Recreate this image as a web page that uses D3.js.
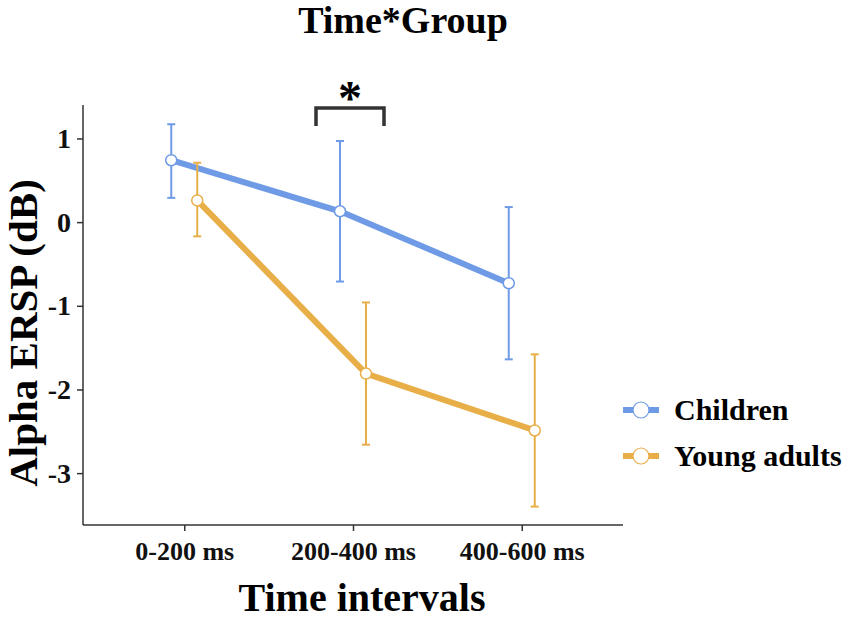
<!DOCTYPE html>
<html>
<head>
<meta charset="utf-8">
<script src="https://cdn.jsdelivr.net/npm/d3@7"></script>
<style>
  html, body { margin: 0; padding: 0; background: #fff; }
  svg { display: block; font-family: "Liberation Serif", "Times New Roman", serif; font-weight: bold; }
</style>
</head>
<body>
<svg id="chart"></svg>
<script>
// Alpha ERSP by time interval, children vs young adults (mean with error bars)
const categories = ["0-200 ms", "200-400 ms", "400-600 ms"];
const groups = ["Children", "Young adults"];

const childrenMean = [0.74, 0.13, -0.73];
const childrenLow  = [0.29, -0.71, -1.64];
const childrenHigh = [1.17, 0.97, 0.18];

const adultsMean = [0.26, -1.81, -2.49];
const adultsLow  = [-0.17, -2.66, -3.40];
const adultsHigh = [0.71, -0.96, -1.58];

const yTicks = [1, 0, -1, -2, -3];
const yDomain = [-3.62, 1.40];

// significance bracket spans the 200-400 ms pair
const sigCategory = "200-400 ms";
const sigLabel = "*";

(function () {
  const W = 851, H = 619;
  const M = { top: 105, right: 228, bottom: 94, left: 83 };

  const BLUE = "#6f9be6";
  const ORANGE = "#e8ae48";
  const AXIS = "#333333";
  const DODGE = 13;

  const svg = d3.select("#chart").attr("width", W).attr("height", H);

  const x = d3.scalePoint()
    .domain(categories)
    .range([M.left, W - M.right])
    .padding(0.6);

  const y = d3.scaleLinear()
    .domain(yDomain)
    .range([H - M.bottom, M.top]);

  const series = [
    { name: groups[0], color: BLUE,   off: -DODGE, mean: childrenMean, lo: childrenLow, hi: childrenHigh },
    { name: groups[1], color: ORANGE, off:  DODGE, mean: adultsMean,   lo: adultsLow,   hi: adultsHigh }
  ];

  // Title
  svg.append("text")
    .attr("x", 403).attr("y", 33)
    .attr("text-anchor", "middle")
    .attr("font-size", 38)
    .attr("fill", "#000")
    .text("Time*Group");

  // Axes
  const yAxis = d3.axisLeft(y).tickValues(yTicks).tickSize(6).tickPadding(6).tickFormat(d3.format("d"));
  const gy = svg.append("g").attr("transform", `translate(${M.left},0)`).call(yAxis);
  gy.select(".domain").attr("stroke", AXIS).attr("stroke-width", 1.5)
    .attr("d", `M0,${y.range()[1]}V${y.range()[0]}`);
  gy.selectAll(".tick line").attr("stroke", AXIS).attr("stroke-width", 1.5);
  gy.selectAll(".tick text")
    .attr("font-size", 28).attr("font-weight", "bold")
    .attr("font-family", "Liberation Serif, serif")
    .attr("fill", "#111")
    .text(d => d < 0 ? "-" + Math.abs(d) : d);

  const xAxis = d3.axisBottom(x).tickSize(6).tickPadding(11);
  const gx = svg.append("g").attr("transform", `translate(0,${H - M.bottom})`).call(xAxis);
  gx.select(".domain").attr("stroke", AXIS).attr("stroke-width", 1.5)
    .attr("d", `M${x.range()[0]},0H${x.range()[1]}`);
  gx.selectAll(".tick line").attr("stroke", AXIS).attr("stroke-width", 1.5);
  gx.selectAll(".tick text")
    .attr("font-size", 26).attr("font-weight", "bold")
    .attr("font-family", "Liberation Serif, serif")
    .attr("fill", "#111");

  // Axis titles
  svg.append("text")
    .attr("x", 362).attr("y", 611)
    .attr("text-anchor", "middle")
    .attr("font-size", 40)
    .attr("fill", "#000")
    .text("Time intervals");

  svg.append("text")
    .attr("transform", `translate(37,333) rotate(-90)`)
    .attr("text-anchor", "middle")
    .attr("font-size", 41)
    .attr("fill", "#000")
    .text("Alpha ERSP (dB)");

  // Lines, error bars, points
  series.forEach(s => {
    const pts = categories.map((c, i) => ({ c, m: s.mean[i], lo: s.lo[i], hi: s.hi[i] }));
    const line = d3.line().x(d => x(d.c) + s.off).y(d => y(d.m));

    svg.append("path")
      .datum(pts)
      .attr("d", line)
      .attr("fill", "none")
      .attr("stroke", s.color)
      .attr("stroke-width", 6);

    const eb = svg.append("g").selectAll("g").data(pts).enter().append("g")
      .attr("stroke", s.color).attr("stroke-width", 2);
    eb.append("line")
      .attr("x1", d => x(d.c) + s.off).attr("x2", d => x(d.c) + s.off)
      .attr("y1", d => y(d.lo)).attr("y2", d => y(d.hi));
    eb.append("line")
      .attr("x1", d => x(d.c) + s.off - 4).attr("x2", d => x(d.c) + s.off + 4)
      .attr("y1", d => y(d.hi)).attr("y2", d => y(d.hi));
    eb.append("line")
      .attr("x1", d => x(d.c) + s.off - 4).attr("x2", d => x(d.c) + s.off + 4)
      .attr("y1", d => y(d.lo)).attr("y2", d => y(d.lo));

    svg.append("g").selectAll("circle").data(pts).enter().append("circle")
      .attr("cx", d => x(d.c) + s.off)
      .attr("cy", d => y(d.m))
      .attr("r", 5.5)
      .attr("fill", "#fff")
      .attr("stroke", s.color)
      .attr("stroke-width", 1.5);
  });

  // Significance bracket
  const bx0 = x(sigCategory) - 37, bx1 = x(sigCategory) + 31;
  svg.append("path")
    .attr("d", `M${bx0},126V108H${bx1}V126`)
    .attr("fill", "none")
    .attr("stroke", "#333")
    .attr("stroke-width", 3.5);
  svg.append("text")
    .attr("x", (bx0 + bx1) / 2).attr("y", 114)
    .attr("text-anchor", "middle")
    .attr("font-size", 48)
    .attr("fill", "#000")
    .text(sigLabel);

  // Legend
  const lg = svg.append("g").attr("transform", "translate(623,410)");
  series.forEach((s, i) => {
    const row = lg.append("g").attr("transform", `translate(0,${i * 46})`);
    row.append("line")
      .attr("x1", 0).attr("x2", 36).attr("y1", 0).attr("y2", 0)
      .attr("stroke", s.color).attr("stroke-width", 6);
    row.append("circle")
      .attr("cx", 18).attr("cy", 0).attr("r", 8)
      .attr("fill", "#fff").attr("stroke", s.color).attr("stroke-width", 1.2);
    row.append("text")
      .attr("x", 51).attr("y", 0).attr("dy", "0.33em")
      .attr("font-size", 30)
      .attr("fill", "#000")
      .text(s.name);
  });
})();
</script>
</body>
</html>
